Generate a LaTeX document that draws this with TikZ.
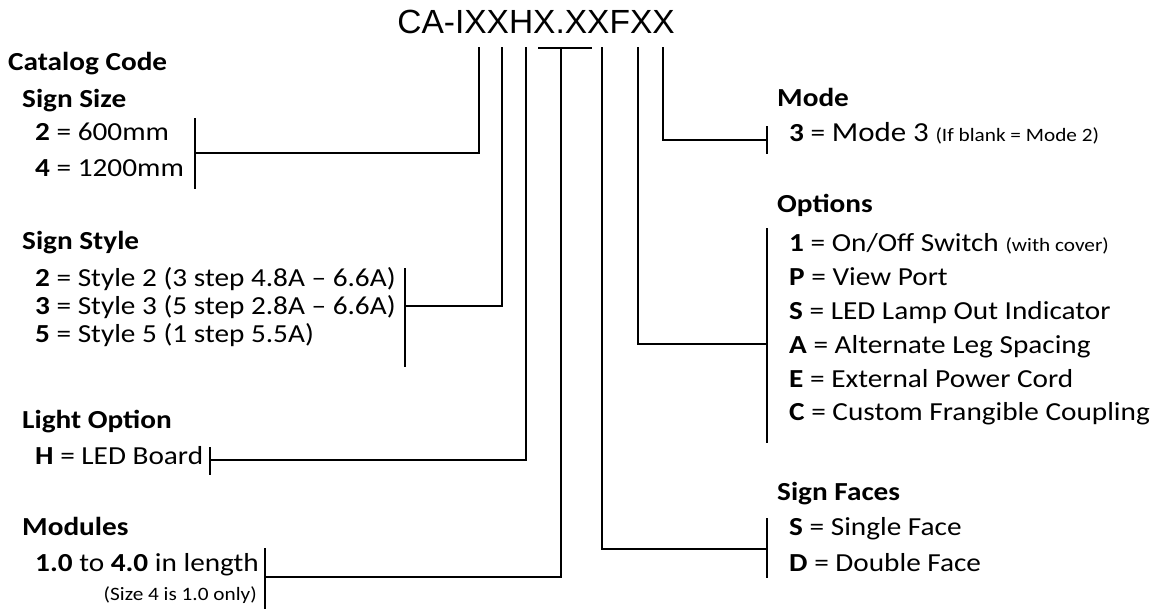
\documentclass[tikz,border=0pt]{standalone}
\usepackage{fontspec}
\setmainfont{Carlito}[FakeStretch=1.125]
\newfontfamily\codefont{Liberation Sans}
\newcommand{\notesize}{\fontsize{18.9}{22}\selectfont}
\usetikzlibrary{positioning}
\tikzset{
x=1pt, y=-1pt, % work in pixels, measured from the top left corner
every node/.style={inner sep=0pt, anchor=base west, font=\fontsize{26}{30}\selectfont},
head/.style={font=\fontsize{26}{30}\selectfont\bfseries}, % group titles
item/.style={}, % the entries of a group
link/.style={line width=1.7pt, line cap=rect}, % lines from the code to the groups
bar/.style={line width=1.7pt}, % the short bracket next to a group
}

\begin{document}
\begin{tikzpicture}
\useasboundingbox (0,0) rectangle (1161,608);

\node[anchor=base] at (536,33) (code) {\fontsize{33.5}{36}\selectfont\codefont CA-IXXHX.XXFXX};

% left side
\node[head] at (8,70) (catalog) {Catalog Code};
\node[head] at (22,107) (sizehead) {Sign Size};
\node[item] at (35,140) (size2) {\textbf{2} = 600mm};
\node[item] at (35,176) (size4) {\textbf{4} = 1200mm};

\node[head] at (22,249) (stylehead) {Sign Style};
\node[item] at (35,286) (style2) {\textbf{2} = Style 2 (3 step 4.8A \textendash{} 6.6A)};
\node[item] at (35,314) (style3) {\textbf{3} = Style 3 (5 step 2.8A \textendash{} 6.6A)};
\node[item] at (35,342) (style5) {\textbf{5} = Style 5 (1 step 5.5A)};

\node[head] at (22,428) (lighthead) {Light Option};
\node[item] at (35,464) (lightH) {\textbf{H} = LED Board};

\node[head] at (22,535) (modhead) {Modules};
\node[item] at (35,571) (modlen) {\textbf{1.0} to \textbf{4.0} in length};
\node[item, anchor=base east] at (257,600) (modnote) {\notesize(Size 4 is 1.0 only)};

% right side
\node[head] at (777,106) (modehead) {Mode};
\node[item] at (789,141) (mode3) {\textbf{3} = {\fontsize{27.5}{32}\selectfont Mode 3} {\notesize(If blank = Mode 2)}};

\node[head] at (777,212) (opthead) {Options};
\node[item] at (789,251) (opt1) {\textbf{1} = On/Off Switch {\notesize(with cover)}};
\node[item] at (789,285) (optP) {\textbf{P} = View Port};
\node[item] at (789,319) (optS) {\textbf{S} = LED Lamp Out Indicator};
\node[item] at (789,353) (optA) {\textbf{A} = Alternate Leg Spacing};
\node[item] at (789,387) (optE) {\textbf{E} = External Power Cord};
\node[item] at (789,420) (optC) {\textbf{C} = Custom Frangible Coupling};

\node[head] at (777,500) (facehead) {Sign Faces};
\node[item] at (789,535) (faceS) {\textbf{S} = Single Face};
\node[item] at (789,571) (faceD) {\textbf{D} = Double Face};

% where the lines leave the code
\coordinate (csize) at (479,48);
\coordinate (cstyle) at (502,48);
\coordinate (clight) at (526,48);
\coordinate (cmodL) at (539,48);
\coordinate (cmod) at (561,48);
\coordinate (cmodR) at (591,48);
\coordinate (cface) at (602,48);
\coordinate (copt) at (638,48);
\coordinate (cmode) at (663,48);

% where the lines meet the brackets
\coordinate (bsize) at (195,153);
\coordinate (bstyle) at (405,306);
\coordinate (blight) at (210,460);
\coordinate (bmod) at (265,577);
\coordinate (bmode) at (767,140);
\coordinate (bopt) at (767,344);
\coordinate (bface) at (767,549);

\draw[bar] (195,118) -- (195,189);
\draw[bar] (405,268) -- (405,367);
\draw[bar] (210,447) -- (210,475);
\draw[bar] (265,548) -- (265,610);
\draw[bar] (767,126) -- (767,154);
\draw[bar] (767,228) -- (767,443);
\draw[bar] (767,518) -- (767,578);

\draw[link] (csize) |- (bsize);
\draw[link] (cstyle) |- (bstyle);
\draw[link] (clight) |- (blight);
\draw[link] (cmodL) -- (cmodR);
\draw[link] (cmod) |- (bmod);
\draw[link] (cface) |- (bface);
\draw[link] (copt) |- (bopt);
\draw[link] (cmode) |- (bmode);

\end{tikzpicture}
\end{document}
